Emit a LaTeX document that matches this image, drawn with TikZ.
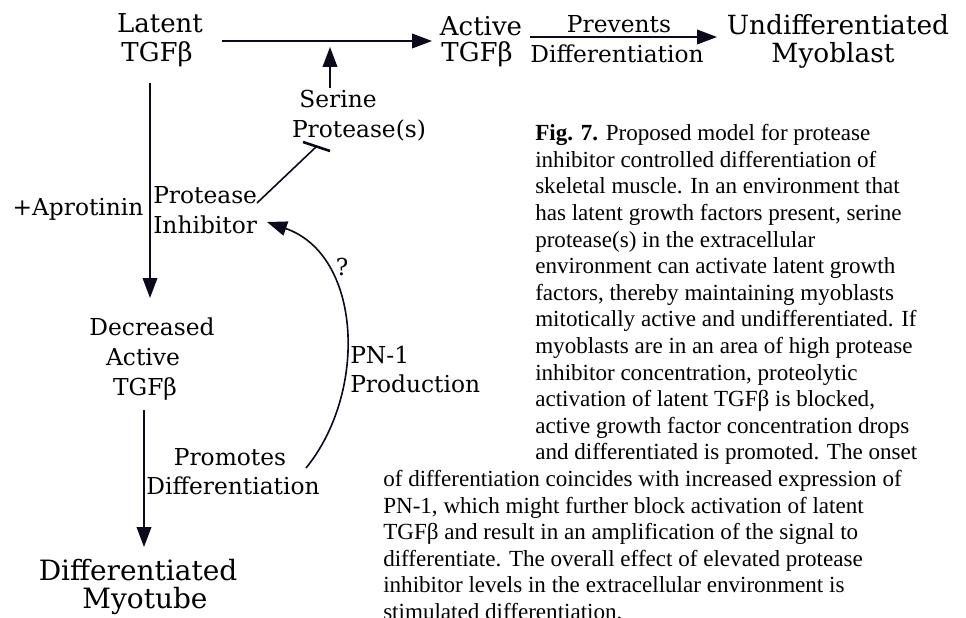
\documentclass[tikz,border=0pt]{standalone}
\usepackage{fontspec}
\setmainfont{Liberation Serif}
\newfontfamily\diafont{DejaVu Serif}
\newfontfamily\capfont{Liberation Serif}
\usetikzlibrary{arrows.meta}
\definecolor{ink}{RGB}{10,10,28}
\tikzset{
  lab/.style={font=\diafont\fontsize{17.5}{21}\selectfont, inner sep=0pt, anchor=base},
  labw/.style={lab, anchor=base west},
  labbig/.style={font=\diafont\fontsize{19.5}{23}\selectfont, inner sep=0pt, anchor=base},
  labhuge/.style={font=\diafont\fontsize{21}{25}\selectfont, inner sep=0pt, anchor=base},
  labend/.style={font=\diafont\fontsize{19.8}{25}\selectfont, inner sep=0pt, anchor=base},
  captxt/.style={font=\capfont\fontsize{17.3}{20}\selectfont, inner sep=0pt, anchor=base west},
  conn/.style={draw=ink, line width=1.2pt},
  arr/.style={conn, -{Triangle[length=15pt,width=11pt]}},
}
\begin{document}
\begin{tikzpicture}[x=0.75pt,y=-0.75pt]
\useasboundingbox (0,0) rectangle (966,617);
\clip (0,0) rectangle (966,617);
% top row
\node[labbig] (latentA) at (160,33) {Latent};
\node[labbig] (latentB) at (157,62) {TGFβ};
\node[labbig] (activeA) at (481,36) {Active};
\node[labbig] (activeB) at (477,62) {TGFβ};
\node[lab] (prevA) at (619,33) {Prevents};
\node[lab] (prevB) at (617,63) {Differentiation};
\node[labend] (undifA) at (838,35) {Undifferentiated};
\node[labend] (undifB) at (833,63) {Myoblast};
\node[lab] (serA) at (338,108) {Serine};
\node[lab] (serB) at (359,137) {Protease(s)};
% left column
\node[lab] (aprot) at (78,215) {+Aprotinin};
\node[labw] (inhA) at (153,203) {Protease};
\node[labw] (inhB) at (153,233) {Inhibitor};
\node[lab] (decA) at (152,335) {Decreased};
\node[lab] (decB) at (143,365) {Active};
\node[lab] (decC) at (145,395) {TGFβ};
\node[lab] (quest) at (342,275) {?};
\node[labw] (pnA) at (350,363) {PN-1};
\node[labw] (pnB) at (350,392) {Production};
\node[lab] (promA) at (230,465) {Promotes};
\node[lab] (promB) at (233,494) {Differentiation};
\node[labhuge] (diffA) at (138,580) {Differentiated};
\node[labhuge] (diffB) at (145,608) {Myotube};
% connector end points
\coordinate (t1) at (222,41);  \coordinate (t2) at (432,41);
\coordinate (s1) at (330,88);  \coordinate (s2) at (330,47);
\coordinate (p1) at (530,37);  \coordinate (p2) at (717,37);
\coordinate (l1) at (150,83);  \coordinate (l2) at (150,298);
\coordinate (m1) at (144,410); \coordinate (m2) at (144,547);
\coordinate (i1) at (257,203); \coordinate (i2) at (317,146);
\coordinate (b1) at (303,142); \coordinate (b2) at (330,151);
\coordinate (c1) at (306,468); \coordinate (c2) at (267,222);
\draw[arr] (t1) -- (t2);
\draw[arr] (s1) -- (s2);
\draw[arr] (p1) -- (p2);
\draw[arr] (l1) -- (l2);
\draw[arr] (m1) -- (m2);
\draw[conn] (i1) -- (i2);
\draw[conn, line width=2pt] (b1) -- (b2);
\draw[arr] (c1) .. controls (368,392) and (362,255) .. (c2);
% caption
\node[captxt] (cap1) at (535,140.7) {\textbf{Fig. 7.} Proposed model for protease};
\node[captxt] (cap2) at (535,167.3) {inhibitor controlled differentiation of};
\node[captxt] (cap3) at (535,193.9) {skeletal muscle. In an environment that};
\node[captxt] (cap4) at (535,220.5) {has latent growth factors present, serine};
\node[captxt] (cap5) at (535,247.1) {protease(s) in the extracellular};
\node[captxt] (cap6) at (535,273.7) {environment can activate latent growth};
\node[captxt] (cap7) at (535,300.3) {factors, thereby maintaining myoblasts};
\node[captxt] (cap8) at (535,326.9) {mitotically active and undifferentiated. If};
\node[captxt] (cap9) at (535,353.5) {myoblasts are in an area of high protease};
\node[captxt] (cap10) at (535,380.1) {inhibitor concentration, proteolytic};
\node[captxt] (cap11) at (535,406.7) {activation of latent TGFβ is blocked,};
\node[captxt] (cap12) at (535,433.3) {active growth factor concentration drops};
\node[captxt] (cap13) at (535,459.9) {and differentiated is promoted. The onset};
\node[captxt] (cap14) at (383,486.5) {of differentiation coincides with increased expression of};
\node[captxt] (cap15) at (383,513.1) {PN-1, which might further block activation of latent};
\node[captxt] (cap16) at (383,539.7) {TGFβ and result in an amplification of the signal to};
\node[captxt] (cap17) at (383,566.3) {differentiate. The overall effect of elevated protease};
\node[captxt] (cap18) at (383,592.9) {inhibitor levels in the extracellular environment is};
\node[captxt] (cap19) at (383,619.5) {stimulated differentiation.};
\end{tikzpicture}
\end{document}
